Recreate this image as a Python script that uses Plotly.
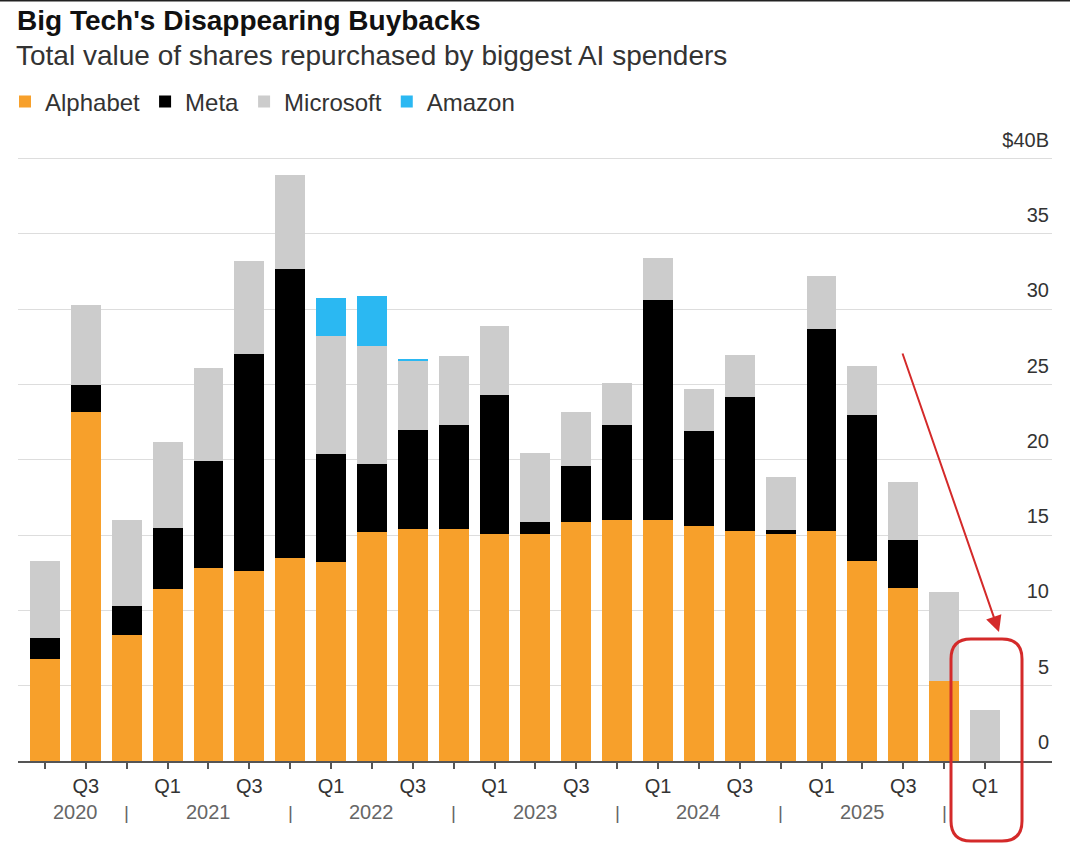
import plotly.graph_objects as go

# ---- data ----
quarters = ["Q2", "Q3", "Q4", "Q1", "Q2", "Q3", "Q4", "Q1", "Q2", "Q3", "Q4", "Q1",
            "Q2", "Q3", "Q4", "Q1", "Q2", "Q3", "Q4", "Q1", "Q2", "Q3", "Q4", "Q1"]
years = [2020, 2020, 2020, 2021, 2021, 2021, 2021, 2022, 2022, 2022, 2022, 2023,
         2023, 2023, 2023, 2024, 2024, 2024, 2024, 2025, 2025, 2025, 2025, 2026]
alphabet = [6.8, 23.2, 8.4, 11.4, 12.8, 12.6, 13.5, 13.2, 15.2, 15.4, 15.4, 15.1,
            15.1, 15.9, 16.0, 16.0, 15.6, 15.3, 15.1, 15.3, 13.3, 11.5, 5.3, 0.0]
meta = [1.4, 1.8, 1.9, 4.05, 7.1, 14.4, 19.2, 7.2, 4.5, 6.6, 6.9, 9.2,
        0.75, 3.7, 6.3, 14.6, 6.3, 8.9, 0.25, 13.4, 9.7, 3.15, 0.0, 0.0]
microsoft = [5.1, 5.3, 5.7, 5.75, 6.2, 6.2, 6.2, 7.8, 7.85, 4.6, 4.6, 4.6,
             4.6, 3.6, 2.8, 2.8, 2.8, 2.75, 3.5, 3.5, 3.2, 3.9, 5.9, 3.4]
amazon = [0.0, 0.0, 0.0, 0.0, 0.0, 0.0, 0.0, 2.55, 3.3, 0.1, 0.0, 0.0,
          0.0, 0.0, 0.0, 0.0, 0.0, 0.0, 0.0, 0.0, 0.0, 0.0, 0.0, 0.0]
y_ticks = [0, 5, 10, 15, 20, 25, 30, 35, 40]
y_ticktext = ["0", "5", "10", "15", "20", "25", "30", "35", "$40B"]

series = [("Alphabet", alphabet, "#F7A02B"),
          ("Meta", meta, "#000000"),
          ("Microsoft", microsoft, "#CCCCCC"),
          ("Amazon", amazon, "#2BB8F2")]

FONT = "Liberation Sans"
idx = list(range(len(quarters)))

# layout geometry (pixels)
TOP, BOTTOM, LEFT, RIGHT = 124, 89, 18, 18
PLOT_H = 850 - TOP - BOTTOM
PLOT_W = 1070 - LEFT - RIGHT
Y0PX = 850 - BOTTOM


def py2paper(py):
    return (Y0PX - py) / PLOT_H


def px2paper(px):
    return (px - LEFT) / PLOT_W


fig = go.Figure()
for name, vals, col in series:
    fig.add_trace(go.Bar(x=idx, y=vals, name=name, marker=dict(color=col, line=dict(width=0))))

x_ticktext = [q if q in ("Q1", "Q3") else "" for q in quarters]

# year labels and separators
sep_pos = [i for i, q in enumerate(quarters) if q == "Q4"]
annotations = []
bounds = [-0.5] + sep_pos
for k in range(len(sep_pos)):
    yr = years[sep_pos[k]]
    annotations.append(dict(x=(bounds[k] + bounds[k + 1]) / 2, y=py2paper(812), xref="x", yref="paper",
                            text=str(yr), showarrow=False, yanchor="middle",
                            font=dict(family=FONT, size=20, color="#666666")))
for p in sep_pos:
    annotations.append(dict(x=p, y=py2paper(812), xref="x", yref="paper", text="|", showarrow=False,
                            yanchor="middle", font=dict(family=FONT, size=19, color="#666666")))

# title / subtitle
annotations.append(dict(x=px2paper(15), y=py2paper(21), xref="paper", yref="paper", xanchor="left",
                        yanchor="middle", text="<b>Big Tech's Disappearing Buybacks</b>", showarrow=False,
                        font=dict(family=FONT, size=28, color="#111111")))
annotations.append(dict(x=px2paper(14), y=py2paper(55), xref="paper", yref="paper", xanchor="left",
                        yanchor="middle", text="Total value of shares repurchased by biggest AI spenders",
                        showarrow=False, font=dict(family=FONT, size=28, color="#333333")))

# red arrow
annotations.append(dict(x=px2paper(999), y=py2paper(632), xref="paper", yref="paper", ax=-97, ay=-280,
                        axref="pixel", ayref="pixel", text="", showarrow=True,
                        arrowhead=2, arrowsize=1.6, arrowwidth=2, arrowcolor="#D42A2A"))

# rounded red box (paper coords)
x0, y0 = px2paper(951), py2paper(639)
x1, y1 = px2paper(1022), py2paper(841)
rx, ry = 20 / PLOT_W, 20 / PLOT_H
path = (f"M{x0+rx},{y0} L{x1-rx},{y0} Q{x1},{y0} {x1},{y0-ry} L{x1},{y1+ry} Q{x1},{y1} {x1-rx},{y1} "
        f"L{x0+rx},{y1} Q{x0},{y1} {x0},{y1+ry} L{x0},{y0-ry} Q{x0},{y0} {x0+rx},{y0} Z")
shapes = [dict(type="path", xref="paper", yref="paper", path=path,
               line=dict(color="#D42A2A", width=3), fillcolor="rgba(0,0,0,0)"),
          dict(type="line", xref="paper", yref="paper", x0=-0.02, x1=1.02, y0=py2paper(0.5),
               y1=py2paper(0.5), line=dict(color="#222222", width=2))]

fig.update_layout(
    width=1070, height=850,
    barmode="stack", bargap=0.27,
    plot_bgcolor="white", paper_bgcolor="white",
    margin=dict(l=LEFT, r=RIGHT, t=TOP, b=BOTTOM, autoexpand=False),
    font=dict(family=FONT, color="#333333"),
    showlegend=True,
    legend=dict(orientation="h", x=px2paper(5), y=py2paper(102), xanchor="left", yanchor="middle",
                font=dict(family=FONT, size=24, color="#333333"), traceorder="normal",
                itemclick=False, bgcolor="rgba(0,0,0,0)"),
    xaxis=dict(range=[-0.66, 24.64], tickvals=idx, ticktext=x_ticktext, ticks="outside",
               ticklen=6, tickwidth=1.5, tickcolor="#555555", showline=True, linecolor="#555555",
               linewidth=1.5, showgrid=False, zeroline=False, automargin=False,
               tickfont=dict(family=FONT, size=20, color="#333333")),
    yaxis=dict(range=[0, PLOT_H / 15.06], tickvals=y_ticks, ticktext=y_ticktext, side="right",
               ticklabelposition="inside top", ticklabelshift=-5, showgrid=True, gridcolor="#DDDDDD",
               gridwidth=1, zeroline=False, showline=False, ticks="", automargin=False,
               tickfont=dict(family=FONT, size=20, color="#333333")),
    annotations=annotations,
    shapes=shapes,
)

fig.write_html("out.html")
